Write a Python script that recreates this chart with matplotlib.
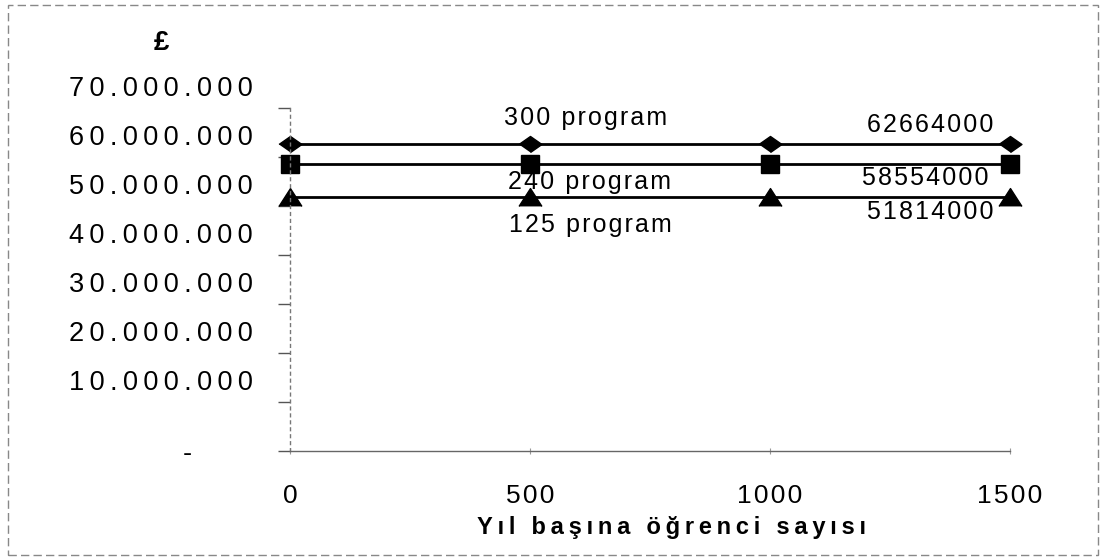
import matplotlib
matplotlib.use('Agg')
import matplotlib.pyplot as plt
from matplotlib.transforms import ScaledTranslation
from matplotlib.patches import Rectangle

# data
ogrenci = [0, 500, 1000, 1500]
prog300 = [62664000, 62664000, 62664000, 62664000]
prog240 = [58554000, 58554000, 58554000, 58554000]
prog125 = [51814000, 51814000, 51814000, 51814000]
yticks = [0, 10000000, 20000000, 30000000, 40000000, 50000000, 60000000, 70000000]
ytick_labels = ['-', '10.000.000', '20.000.000', '30.000.000', '40.000.000',
                '50.000.000', '60.000.000', '70.000.000']
xtick_labels = ['0', '500', '1000', '1500']
seri_adlari = ['300 program', '240 program', '125 program']
xlabel = 'Yıl başına öğrenci sayısı'
ylabel = '£'

FONT = ['Liberation Sans', 'DejaVu Sans']
THIN = '\u2009'
HAIR = '\u200a'

def spaced(s, sep):
    return sep.join(s)

plt.rcParams['font.family'] = FONT

fig = plt.figure(figsize=(11.06, 5.59), dpi=100)
ax = fig.add_axes([290/1106, 1-451/559, 720/1106, 343/559])

diamond = [(-1, 0), (0, 0.7), (1, 0), (0, -0.7)]
triangle = [(-1, -0.78), (0, 0.78), (1, -0.78)]

ax.plot(ogrenci, prog300, '-', color='black', lw=2, marker=diamond, ms=16.5, clip_on=False)
ax.plot(ogrenci, prog240, '-', color='black', lw=2, marker='s', ms=12.5, clip_on=False)
ax.plot(ogrenci, prog125, '-', color='black', lw=2, marker=triangle, ms=16.5, clip_on=False)

ax.set_xlim(0, 1500)
ax.set_ylim(0, 70000000)
ax.set_xticks(ogrenci)
ax.set_xticklabels([spaced(t, HAIR) for t in xtick_labels], fontsize=19)
ax.set_yticks(yticks)
ax.set_yticklabels([spaced(t, THIN) for t in ytick_labels], fontsize=19.5)

for s in ['top', 'right']:
    ax.spines[s].set_visible(False)
ax.spines['left'].set_color('#777777')
ax.spines['left'].set_linestyle((0, (2, 3)))
ax.spines['left'].set_linewidth(1)
ax.spines['bottom'].set_color('#666666')
ax.spines['bottom'].set_linewidth(1)

ax.tick_params(axis='y', direction='out', length=8.6, width=1, color='#555555', pad=16)
ax.tick_params(axis='x', direction='inout', length=4, width=0.8, color='#999999', pad=22)

# series labels (offsets in points from the line)
ann = [(seri_adlari[0], 615, prog300[1], 19),
       (seri_adlari[1], 625, prog240[1], -13),
       (seri_adlari[2], 625, prog125[1], -20),
       (str(prog300[-1]), 1333, prog300[-1], 13.5),
       (str(prog240[-1]), 1323, prog240[-1], -10),
       (str(prog125[-1]), 1333, prog125[-1], -11)]
for txt, xx, yy, dy in ann:
    ax.annotate(spaced(txt, HAIR), xy=(xx, yy), xytext=(0, dy), textcoords='offset points',
                ha='center', va='center', fontsize=18)

ax.set_xlabel(spaced(xlabel, THIN), fontsize=17, fontweight='bold')
ax.xaxis.set_label_coords(0.53, -0.222)
ax.xaxis.label.set_va('center')
ax.set_ylabel(ylabel, fontsize=20, fontweight='bold', rotation=0)
ax.yaxis.set_label_coords(-0.178, 1.19)
ax.yaxis.label.set_va('center')
ax.yaxis.label.set_ha('center')

# scanned page frame
fig.patches.append(Rectangle((8/1106, 4/559), 1090/1106, 550/559, transform=fig.transFigure,
                             fill=False, edgecolor='#888888', lw=1, ls=(0, (6, 3))))

fig.canvas.draw()
# y labels in the original sit higher than their ticks, the "-" far to the left
for lbl in ax.get_yticklabels():
    if lbl.get_text() == '-':
        off = ScaledTranslation(-64/100, 0, fig.dpi_scale_trans)
    else:
        off = ScaledTranslation(-3/100, 22/100, fig.dpi_scale_trans)
    lbl.set_transform(lbl.get_transform() + off)

plt.savefig('out.png', dpi=100)
